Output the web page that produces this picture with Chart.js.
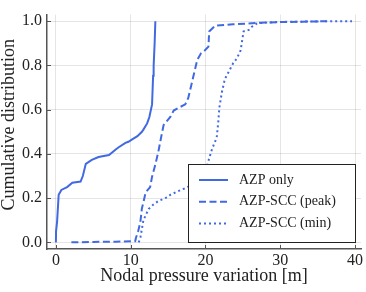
<!DOCTYPE html>
<html>
<head>
<meta charset="utf-8">
<script src="https://cdn.jsdelivr.net/npm/chart.js@4.4.0/dist/chart.umd.min.js"></script>
<style>
    html, body { margin: 0; padding: 0; background: #fff; }
</style>
</head>
<body>
<canvas id="cdf" width="366" height="292"></canvas>
<script>
// Tick values
const xTicks = [0, 10, 20, 30, 40];
const yTicks = [0, 0.2, 0.4, 0.6, 0.8, 1.0];
const seriesNames = ['AZP only', 'AZP-SCC (peak)', 'AZP-SCC (min)'];
const yTitle = 'Cumulative distribution';

// AZP only (solid)
const azpX = [0, 0.02, 0.16, 0.37, 0.73, 1.5, 2.2, 3.3, 3.6, 4.0, 4.8, 5.7, 7.1, 8.0, 8.4, 9.3, 9.7, 10.2, 10.9, 11.5, 11.7, 12.2, 12.5, 12.86, 13.0, 13.07, 13.2, 13.3];
const azpY = [0, 0.05, 0.094, 0.215, 0.237, 0.25, 0.27, 0.275, 0.3, 0.355, 0.373, 0.386, 0.395, 0.42, 0.43, 0.45, 0.455, 0.466, 0.48, 0.5, 0.51, 0.538, 0.567, 0.624, 0.753, 0.797, 0.897, 1.0];

// AZP-SCC peak (dashed)
const peakX = [2.07, 5, 8, 10.6, 10.7, 11.0, 11.3, 11.5, 11.7, 12.0, 12.6, 12.86, 13.3, 13.7, 14.06, 14.4, 15.3, 15.75, 16.6, 17.3, 17.7, 18.0, 18.4, 18.9, 19.4, 19.9, 20.4, 20.5, 21.3, 23.7, 27.3, 30, 33, 36.2];
const peakY = [0, 0.002, 0.003, 0.005, 0.02, 0.05, 0.094, 0.154, 0.18, 0.226, 0.25, 0.297, 0.352, 0.41, 0.473, 0.53, 0.567, 0.596, 0.612, 0.624, 0.653, 0.696, 0.753, 0.825, 0.855, 0.868, 0.885, 0.954, 0.98, 0.986, 0.993, 0.996, 0.998, 1.0];

// AZP-SCC min (dotted)
const minX = [11.07, 11.3, 11.7, 12.4, 13.0, 13.7, 14.9, 15.3, 16.9, 17.5, 18.5, 19.5, 20.2, 20.5, 20.9, 21.5, 21.7, 21.86, 22.2, 22.6, 23.06, 23.7, 24.2, 24.7, 24.9, 25.1, 25.8, 26.2, 26.9, 27.3, 30, 33, 35.8, 39.6];
const minY = [0, 0.022, 0.1, 0.151, 0.17, 0.187, 0.204, 0.215, 0.24, 0.247, 0.27, 0.3, 0.345, 0.38, 0.424, 0.473, 0.538, 0.61, 0.68, 0.739, 0.768, 0.81, 0.832, 0.868, 0.911, 0.954, 0.961, 0.975, 0.99, 0.992, 0.997, 0.998, 1.0, 1.0];

const blue = '#4169e1';
const spine = '#555555';
const serif = '"Liberation Serif", "DejaVu Serif", serif';

function pts(xs, ys) {
    return xs.map((x, i) => ({ x: x, y: ys[i] }));
}

// legend box drawn inside the plot, bottom right
const insideLegend = {
    id: 'insideLegend',
    afterDraw(chart) {
        const ctx = chart.ctx;
        const area = chart.chartArea;
        const w = 167, h = 78;
        const x0 = area.right - 6 - w;
        const y0 = area.bottom - 7 - h;
        ctx.save();
        ctx.fillStyle = '#fff';
        ctx.fillRect(x0, y0, w, h);
        ctx.strokeStyle = '#222';
        ctx.lineWidth = 1;
        ctx.strokeRect(x0 + 0.5, y0 + 0.5, w, h);
        ctx.font = '14px ' + serif;
        ctx.textBaseline = 'middle';
        chart.data.datasets.forEach((ds, i) => {
            const y = y0 + 16 + i * 21.7;
            ctx.strokeStyle = ds.borderColor;
            ctx.lineWidth = ds.borderWidth;
            ctx.setLineDash(ds.borderDash || []);
            ctx.beginPath();
            ctx.moveTo(x0 + 11, y);
            ctx.lineTo(x0 + 40, y);
            ctx.stroke();
            ctx.setLineDash([]);
            ctx.fillStyle = '#222';
            ctx.fillText(ds.label, x0 + 51, y);
        });
        ctx.restore();
    }
};

// small tick marks pointing into the plot, plus the rotated y title
const innerTicks = {
    id: 'innerTicks',
    afterDatasetsDraw(chart) {
        const ctx = chart.ctx;
        const area = chart.chartArea;
        ctx.save();
        ctx.strokeStyle = spine;
        ctx.lineWidth = 1;
        chart.scales.y.ticks.forEach(t => {
            const py = Math.round(chart.scales.y.getPixelForValue(t.value)) + 0.5;
            ctx.beginPath();
            ctx.moveTo(area.left, py);
            ctx.lineTo(area.left + 4, py);
            ctx.stroke();
        });
        chart.scales.x.ticks.forEach(t => {
            const px = Math.round(chart.scales.x.getPixelForValue(t.value)) + 0.5;
            ctx.beginPath();
            ctx.moveTo(px, area.bottom);
            ctx.lineTo(px, area.bottom - 4);
            ctx.stroke();
        });
        // y axis title, slightly above the plot centre as in the original
        ctx.translate(9, (area.top + area.bottom) / 2 - 7);
        ctx.rotate(-Math.PI / 2);
        ctx.font = '18px ' + serif;
        ctx.fillStyle = '#222';
        ctx.textAlign = 'center';
        ctx.textBaseline = 'middle';
        ctx.fillText(yTitle, 0, 0);
        ctx.restore();
    }
};

new Chart(document.getElementById('cdf'), {
    type: 'scatter',
    data: {
        datasets: [{
            label: seriesNames[0],
            data: pts(azpX, azpY),
            borderColor: blue,
            borderWidth: 2
        }, {
            label: seriesNames[1],
            data: pts(peakX, peakY),
            borderColor: blue,
            borderWidth: 2,
            borderDash: [7, 3.5]
        }, {
            label: seriesNames[2],
            data: pts(minX, minY),
            borderColor: blue,
            borderWidth: 2,
            borderDash: [2, 3]
        }]
    },
    options: {
        responsive: false,
        animation: false,
        showLine: true,
        elements: {
            point: { radius: 0, hoverRadius: 0 },
            line: { tension: 0, fill: false }
        },
        layout: { padding: { top: 2, right: 5, left: 0, bottom: 0 } },
        plugins: {
            legend: { display: false },
            tooltip: { enabled: false }
        },
        scales: {
            x: {
                type: 'linear',
                min: -1.19,
                max: 40.8,
                afterBuildTicks: function (scale) {
                    scale.ticks = xTicks.map(v => ({ value: v }));
                },
                afterFit: function (scale) { scale.height = 43; },
                grid: { color: 'rgba(0,0,0,0.1)', drawTicks: false },
                border: { color: spine, width: 1.5 },
                ticks: {
                    padding: 2,
                    color: '#222',
                    font: { family: serif, size: 16 },
                    callback: v => String(v)
                },
                title: {
                    display: true,
                    text: 'Nodal pressure variation [m]',
                    color: '#222',
                    font: { family: serif, size: 18, lineHeight: 1 },
                    padding: { top: 0, bottom: 7 }
                }
            },
            y: {
                type: 'linear',
                min: -0.03,
                max: 1.03,
                afterBuildTicks: function (scale) {
                    scale.ticks = yTicks.map(v => ({ value: v }));
                },
                afterFit: function (scale) { scale.width = 47; },
                grid: { color: 'rgba(0,0,0,0.1)', drawTicks: false },
                border: { color: spine, width: 1.5 },
                ticks: {
                    padding: 5,
                    color: '#222',
                    font: { family: serif, size: 16 },
                    callback: v => v.toFixed(1)
                },
                title: { display: false }
            }
        }
    },
    plugins: [innerTicks, insideLegend]
});
</script>
</body>
</html>
